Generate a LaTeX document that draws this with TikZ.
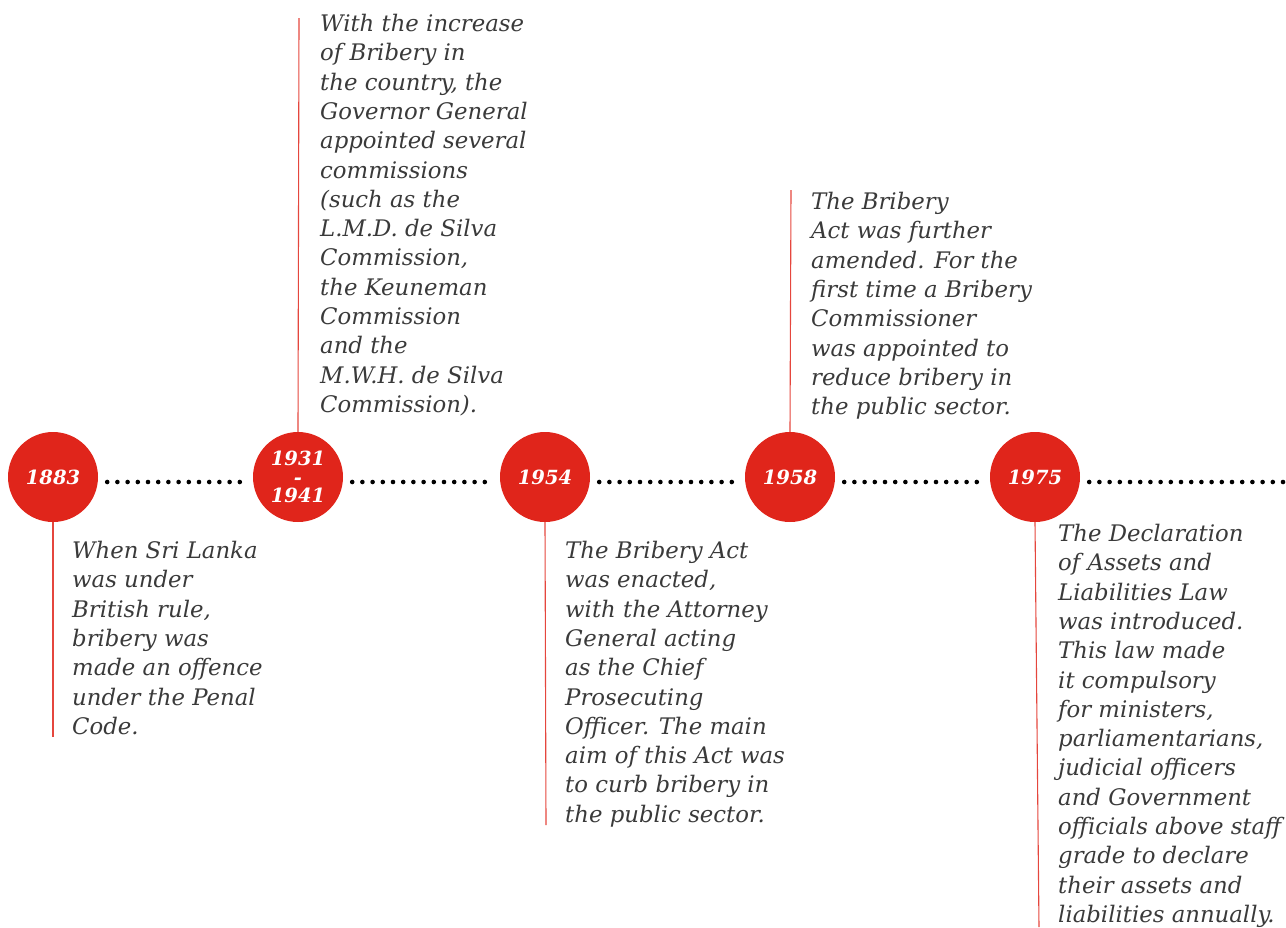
\documentclass[tikz,border=0pt]{standalone}
\usepackage{fontspec}
\setmainfont{DejaVu Serif}
\usetikzlibrary{positioning}

\definecolor{timered}{HTML}{E0251B}
\definecolor{notegray}{HTML}{3A3A3A}

\tikzset{
  year/.style={circle, fill=timered, minimum size=90pt, inner sep=0pt, text=white,
    font=\fontsize{19.5}{18.5}\selectfont\bfseries\itshape, align=center},
  dots/.style={line width=4.6pt, line cap=round, dash pattern=on 0pt off 10.2pt,
    shorten <=9pt, shorten >=9pt},
  stem/.style={timered!85, line width=1.1pt},
  note/.style={anchor=north west, inner sep=0pt, align=left, text=notegray,
    font=\fontsize{22.8}{29.3}\selectfont\itshape},
}

\begin{document}
\begin{tikzpicture}[x=1pt, y=-1pt]
			%%%%% START %%%%%
			\useasboundingbox (0, 0) rectangle (1286, 927);
			
			\node[year] (y1883) at (53, 477) {1883};
			\node[year] (y1931) at (298, 477) {1931\\-\\1941};
			\node[year] (y1954) at (545, 477) {1954};
			\node[year] (y1958) at (790, 477) {1958};
			\node[year] (y1975) at (1035, 477) {1975};
			\coordinate (lineend) at (1300, 482);
			
			\draw[dots] ([yshift=-5pt]y1883.east) -- ([yshift=-5pt]y1931.west);
			\draw[dots] ([yshift=-5pt]y1931.east) -- ([yshift=-5pt]y1954.west);
			\draw[dots] ([yshift=-5pt]y1954.east) -- ([yshift=-5pt]y1958.west);
			\draw[dots] ([yshift=-5pt]y1958.east) -- ([yshift=-5pt]y1975.west);
			\draw[dots, shorten >=0pt] ([yshift=-5pt]y1975.east) -- (lineend);
			
			% stems
			\coordinate (s1883) at (53, 737);
			\coordinate (s1931) at (299, 18);
			\coordinate (s1954) at (546, 825);
			\coordinate (s1958) at (791, 190);
			\coordinate (s1975) at (1039, 927);
			\draw[stem] (y1883.south) -- (s1883);
			\draw[stem] (y1931.north) -- (s1931);
			\draw[stem] (y1954.south) -- (s1954);
			\draw[stem] (y1958.north) -- (s1958);
			\draw[stem] (y1975.south) -- (s1975);
			
			% notes
			\node[note] (n1883) at (72, 541) {When Sri Lanka\\was under\\British rule,\\bribery was\\made an offence\\under the Penal\\Code.};
			\node[note] (n1931) at (320, 14) {With the increase\\of Bribery in\\the country, the\\Governor General\\appointed several\\commissions\\(such as the\\L.M.D. de Silva\\Commission,\\the Keuneman\\Commission\\and the\\M.W.H. de Silva\\Commission).};
			\node[note] (n1954) at (565, 541) {The Bribery Act\\was enacted,\\with the Attorney\\General acting\\as the Chief\\Prosecuting\\Officer. The main\\aim of this Act was\\to curb bribery in\\the public sector.};
			\node[note] (n1958) at (811, 192) {The Bribery\\Act was further\\amended. For the\\first time a Bribery\\Commissioner\\was appointed to\\reduce bribery in\\the public sector.};
			\node[note] (n1975) at (1058, 524) {The Declaration\\of Assets and\\Liabilities Law\\was introduced.\\This law made\\it compulsory\\for ministers,\\parliamentarians,\\judicial officers\\and Government\\officials above staff\\grade to declare\\their assets and\\liabilities annually.};
			%%%%% END %%%%%
\end{tikzpicture}
\end{document}
